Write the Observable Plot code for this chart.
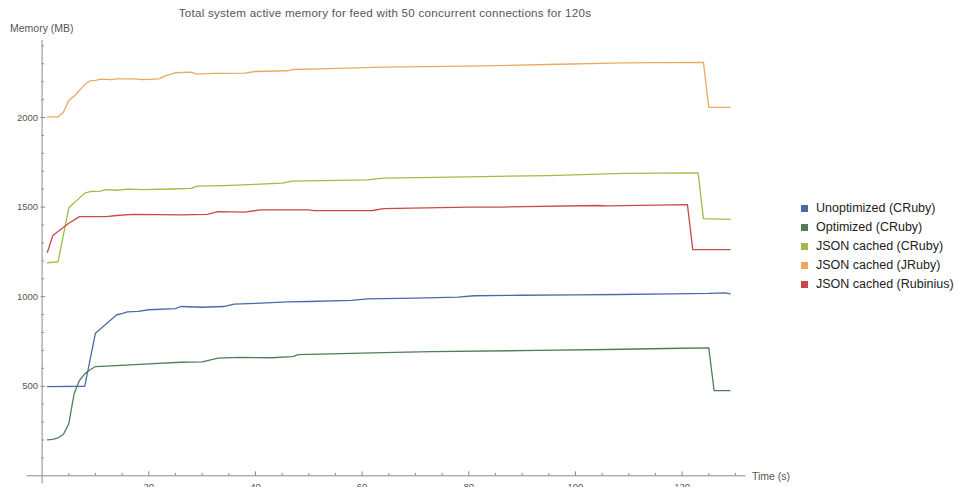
<!DOCTYPE html>
<html>
<head>
<meta charset="utf-8">
<script src="https://cdn.jsdelivr.net/npm/d3@7"></script>
<script src="https://cdn.jsdelivr.net/npm/@observablehq/plot@0.6"></script>
<style>
  html, body { margin: 0; padding: 0; background: #fff; }
  #wrap { position: relative; width: 957px; height: 487px; overflow: hidden;
          font-family: "Liberation Sans", Arial, sans-serif; }
  #wrap svg { position: absolute; left: 0; top: 0; }
  .title { position: absolute; left: 0; top: 6px; width: 770px; text-align: center;
           font-size: 11.6px; color: #555; letter-spacing: 0.25px; }
  .ylab { position: absolute; left: 10px; top: 22px; font-size: 10.5px; color: #555; }
  .xlab { position: absolute; left: 752px; top: 470px; font-size: 10.5px; color: #555; }
  .legend { position: absolute; left: 801px; top: 198.5px; font-size: 12.5px; color: #222; }
  .legend .row { display: flex; align-items: center; height: 19.1px; white-space: nowrap; }
  .legend .sw { width: 7px; height: 7px; margin-right: 8px; }
</style>
</head>
<body>
<div id="wrap">
  <div class="title">Total system active memory for feed with 50 concurrent connections for 120s</div>
  <div class="ylab">Memory (MB)</div>
  <div class="xlab">Time (s)</div>
  <div class="legend" id="legend"></div>
</div>
<script>
// Series names and colours, in legend order
const seriesNames = [
  "Unoptimized (CRuby)",
  "Optimized (CRuby)",
  "JSON cached (CRuby)",
  "JSON cached (JRuby)",
  "JSON cached (Rubinius)"
];
const seriesColors = ["#4f68aa", "#4f7f56", "#a0bb46", "#e8aa62", "#c94a48"];

// [time (s), memory (MB)] samples for each run
const unoptimized = [
  [1,498],[8,500],[10,796],[14,899],[15,905],[16,915],[18,918],[20,927],[25,933],[26,945],
  [30,941],[34,945],[36,958],[40,962],[46,971],[50,973],[58,979],[61,988],[70,992],[78,997],
  [81,1005],[90,1008],[100,1010],[108,1012],[118,1016],[125,1018],[128,1021],[129,1015]
];
const optimized = [
  [1,201],[2,203],[3,212],[4,232],[5,290],[6,458],[7,532],[8,569],[9,592],[10,610],
  [13,614],[20,625],[26,634],[30,636],[33,657],[37,661],[43,659],[47,665],[48,677],[64,688],
  [73,693],[93,700],[106,705],[120,712],[125,714],[126,476],[129,476]
];
const jsonCRuby = [
  [1,1189],[3,1195],[5,1496],[8,1578],[9,1587],[11,1589],[12,1597],[14,1594],[16,1600],[19,1597],
  [24,1601],[28,1604],[29,1617],[34,1620],[40,1627],[45,1634],[47,1645],[61,1652],[64,1662],
  [80,1669],[95,1676],[109,1688],[123,1691],[124,1436],[129,1432]
];
const jsonJRuby = [
  [1,2004],[3,2004],[4,2030],[5,2095],[6,2119],[8,2184],[9,2205],[10,2207],[11,2214],[13,2212],
  [14,2216],[17,2216],[19,2212],[22,2216],[23,2231],[25,2250],[28,2253],[29,2242],[32,2246],
  [38,2248],[40,2257],[46,2261],[47,2268],[52,2272],[64,2281],[80,2287],[95,2296],[109,2305],
  [124,2308],[125,2057],[129,2057]
];
const jsonRubinius = [
  [1,1248],[2,1341],[5,1410],[7,1447],[12,1447],[14,1453],[17,1459],[26,1457],[31,1459],[33,1475],
  [38,1472],[41,1485],[50,1485],[51,1480],[62,1481],[64,1492],[80,1500],[86,1500],[104,1509],
  [106,1507],[121,1514],[122,1263],[129,1263]
];

// Axis ticks
const xMajor = [20, 40, 60, 80, 100, 120];
const xMinor = d3.range(5, 131, 5).filter(d => d % 20 !== 0);
const yMajor = [500, 1000, 1500, 2000];
const yMinor = d3.range(100, 2401, 100).filter(d => d % 500 !== 0);

const allSeries = [unoptimized, optimized, jsonCRuby, jsonJRuby, jsonRubinius];
const rows = allSeries.flatMap((s, i) => s.map(([t, mem]) => ({t, mem, series: seriesNames[i]})));

const axisColor = "#8a8a8a";
const labelColor = "#555";

const chart = Plot.plot({
  width: 957,
  height: 487,
  marginLeft: 41.6,
  marginRight: 211.4,
  marginTop: 40,
  marginBottom: 11.7,
  style: {fontFamily: '"Liberation Sans", Arial, sans-serif', background: "transparent", overflow: "visible"},
  x: {domain: [0, 132], axis: null},
  y: {domain: [0, 2430], axis: null},
  color: {domain: seriesNames, range: seriesColors},
  marks: [
    // axis lines crossing at the origin
    Plot.ruleY([0], {x1: -2.8, x2: 132, stroke: axisColor, strokeWidth: 1}),
    Plot.ruleX([0], {y1: -45, y2: 2430, stroke: axisColor, strokeWidth: 1}),
    // inward ticks
    Plot.ruleX(xMajor, {y1: -4, y2: 22, stroke: axisColor}),
    Plot.ruleX(xMinor, {y1: 0, y2: 13, stroke: axisColor}),
    Plot.ruleY(yMajor, {x1: -0.2, x2: 0.7, stroke: axisColor}),
    Plot.ruleY(yMinor, {x1: 0, x2: 0.45, stroke: axisColor}),
    // tick labels
    Plot.text(xMajor, {x: d => d, y: 0, dy: 11, text: d => String(d), fill: labelColor, fontSize: 9.5}),
    Plot.text(yMajor, {x: 0, y: d => d, dx: -4, textAnchor: "end", text: d => String(d), fill: labelColor, fontSize: 9.5}),
    // memory curves
    Plot.line(rows, {x: "t", y: "mem", z: "series", stroke: "series", strokeWidth: 1.3, strokeLinejoin: "round"})
  ]
});
document.getElementById("wrap").prepend(chart);

// Legend, one row per series
const legend = document.getElementById("legend");
seriesNames.forEach((name, i) => {
  const row = document.createElement("div");
  row.className = "row";
  const sw = document.createElement("span");
  sw.className = "sw";
  sw.style.background = seriesColors[i];
  const label = document.createElement("span");
  label.textContent = name;
  row.append(sw, label);
  legend.append(row);
});
</script>
</body>
</html>
